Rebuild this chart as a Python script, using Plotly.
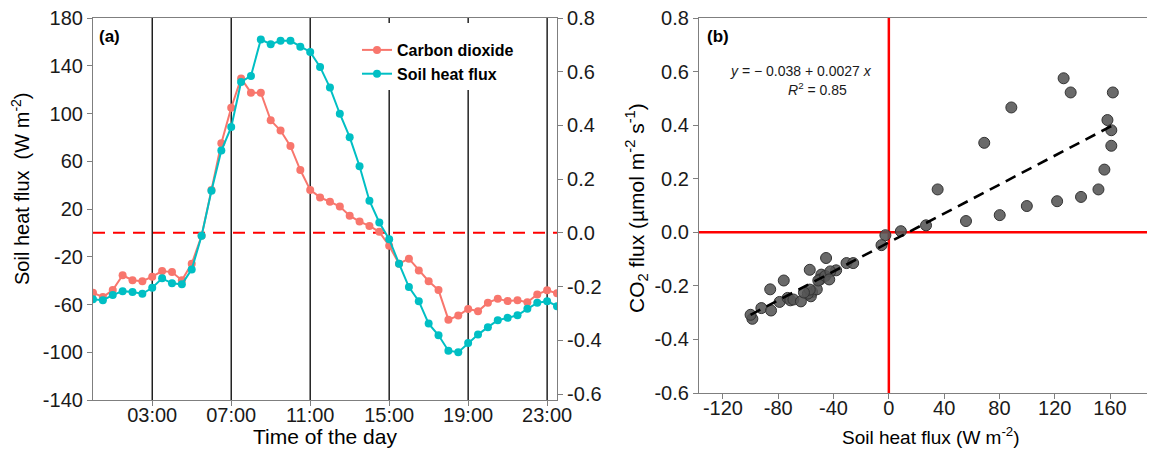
import plotly.graph_objects as go

# ---------------- data ----------------
hours = [0, 0.5, 1, 1.5, 2, 2.5, 3, 3.5, 4, 4.5,
         5, 5.5, 6, 6.5, 7, 7.5, 8, 8.5, 9, 9.5,
         10, 10.5, 11, 11.5, 12, 12.5, 13, 13.5, 14, 14.5,
         15, 15.5, 16, 16.5, 17, 17.5, 18, 18.5, 19, 19.5,
         20, 20.5, 21, 21.5, 22, 22.5, 23, 23.5]

co2_flux = [-0.223, -0.239, -0.213, -0.158, -0.176, -0.180, -0.163, -0.142, -0.146, -0.176,
            -0.115, -0.011, 0.160, 0.334, 0.466, 0.575, 0.522, 0.522, 0.419, 0.381,
            0.323, 0.234, 0.160, 0.132, 0.116, 0.098, 0.064, 0.042, 0.026, 0.004,
            -0.048, -0.115, -0.096, -0.140, -0.180, -0.213, -0.323, -0.308, -0.283, -0.292,
            -0.260, -0.245, -0.254, -0.251, -0.258, -0.229, -0.214, -0.225]

soil_heat_flux = [-55.5, -56.4, -52.1, -48.8, -49.6, -51.0, -46.0, -38.1, -42.3, -43.1,
                  -30.6, -2.5, 35.3, 69.0, 88.6, 126.4, 131.5, 162.0, 158.1, 160.9,
                  160.9, 155.9, 151.6, 139.0, 121.7, 99.8, 80.2, 55.8, 26.9, 8.7,
                  -5.3, -25.8, -45.4, -57.2, -76.0, -85.8, -98.7, -100.0, -92.2, -85.2,
                  -79.0, -73.2, -71.2, -69.0, -63.6, -58.6, -57.2, -61.4]

time_tickvals = [3, 7, 11, 15, 19, 23]
time_ticktext = ["03:00", "07:00", "11:00", "15:00", "19:00", "23:00"]
shf_ticks_a = [-140, -100, -60, -20, 20, 60, 100, 140, 180]
shf_ticktext_a = ["-140", "-100", "-60", "-20", "20", "60", "100", "140", "180"]
co2_ticks = [-0.6, -0.4, -0.2, 0.0, 0.2, 0.4, 0.6, 0.8]
co2_ticktext = ["-0.6", "-0.4", "-0.2", "0.0", "0.2", "0.4", "0.6", "0.8"]
shf_ticks_b = [-120, -80, -40, 0, 40, 80, 120, 160]
shf_ticktext_b = ["-120", "-80", "-40", "0", "40", "80", "120", "160"]

intercept = -0.038
slope = 0.0027
r_squared = 0.85

# ---------------- styles ----------------
PAGE_W, PAGE_H = 1155, 450
OFF = 8                      # default page margin around the figure div
W, H = PAGE_W - OFF, PAGE_H - OFF
FONT = "Liberation Sans, Arial, sans-serif"
RED = "#F8766D"
TEAL = "#00BFC4"
AX = "#7f7f7f"
TICKFONT = dict(family=FONT, size=20, color="#1a1a1a")

def px_x(p):
    # page pixel -> paper fraction
    return (p - OFF) / W

def px_y(p):
    return (PAGE_H - p) / H

fig = go.Figure()

fig.add_trace(go.Scatter(
    x=hours, y=co2_flux, mode="lines+markers", name="Carbon dioxide",
    line=dict(color=RED, width=2), marker=dict(size=8, color=RED),
    xaxis="x", yaxis="y"))
fig.add_trace(go.Scatter(
    x=hours, y=soil_heat_flux, mode="lines+markers", name="Soil heat flux",
    line=dict(color=TEAL, width=2), marker=dict(size=8, color=TEAL),
    xaxis="x", yaxis="y2"))

fig.add_trace(go.Scatter(
    x=soil_heat_flux, y=co2_flux, mode="markers", showlegend=False,
    marker=dict(size=11, color="rgba(85,85,85,0.88)", line=dict(color="#333333", width=1)),
    xaxis="x2", yaxis="y3"))

x_fit = [min(soil_heat_flux), max(soil_heat_flux)]
y_fit = [intercept + slope * v for v in x_fit]
fig.add_trace(go.Scatter(
    x=x_fit, y=y_fit, mode="lines", showlegend=False,
    line=dict(color="black", width=2.6, dash="11px,7px"),
    xaxis="x2", yaxis="y3"))

common_axis = dict(showgrid=False, zeroline=False, showline=True, linecolor=AX,
                   linewidth=1.2, ticks="outside", ticklen=5, tickwidth=1.2,
                   tickcolor=AX, tickfont=TICKFONT, automargin=False,
                   ticklabeloverflow="allow")

fig.update_layout(
    width=W, height=H, autosize=False,
    margin=dict(l=0, r=0, t=0, b=0, pad=0, autoexpand=False),
    paper_bgcolor="white", plot_bgcolor="white",
    font=dict(family=FONT, color="black"),
    xaxis=dict(domain=[px_x(93), px_x(557)], anchor="y", range=[0, 23.5],
               tickmode="array", tickvals=time_tickvals, ticktext=time_ticktext,
               mirror=True, ticklabelstandoff=-8, **common_axis),
    yaxis=dict(domain=[px_y(400), px_y(18)], anchor="x", side="right",
               range=[-140 / 225, 0.8], tickmode="array", tickvals=co2_ticks,
               ticktext=co2_ticktext, **common_axis),
    yaxis2=dict(overlaying="y", anchor="x", side="left", range=[-140, 180],
                tickmode="array", tickvals=shf_ticks_a, ticktext=shf_ticktext_a,
                **common_axis),
    xaxis2=dict(domain=[px_x(699), 1.0], anchor="y3", range=[-137.3, 192.5],
                tickmode="array", tickvals=shf_ticks_b, ticktext=shf_ticktext_b,
                mirror=True, ticklabelstandoff=-8, **common_axis),
    yaxis3=dict(domain=[px_y(393), px_y(18)], anchor="x2", range=[-0.6, 0.8],
                tickmode="array", tickvals=co2_ticks, ticktext=co2_ticktext,
                **common_axis),
    legend=dict(x=px_x(357), y=px_y(33), xanchor="left", yanchor="top",
                bgcolor="rgba(0,0,0,0)", borderwidth=0,
                font=dict(family=FONT, size=16, color="black", weight="bold"),
                tracegroupgap=0),
    showlegend=True,
)

shapes = []
for t in time_tickvals:
    shapes.append(dict(type="line", xref="x", yref="y domain", x0=t, x1=t, y0=0, y1=1,
                       line=dict(color="black", width=1.3), layer="below"))
# white legend background box (covers the vertical guide lines behind the legend)
shapes.append(dict(type="rect", xref="paper", yref="paper",
                   x0=px_x(362), x1=px_x(525), y0=px_y(90), y1=px_y(23),
                   fillcolor="white", line=dict(width=0), layer="below"))
shapes.append(dict(type="line", xref="x domain", yref="y", x0=0, x1=1, y0=0, y1=0,
                   line=dict(color="#FF0000", width=2, dash="12px,8px"), layer="below"))
shapes.append(dict(type="line", xref="x2", yref="y3 domain", x0=0, x1=0, y0=0, y1=1,
                   line=dict(color="#FF0000", width=2.5), layer="below"))
shapes.append(dict(type="line", xref="x2 domain", yref="y3", x0=0, x1=1, y0=0, y1=0,
                   line=dict(color="#FF0000", width=2.5), layer="below"))
fig.update_layout(shapes=shapes)

ann = []
ann.append(dict(text="<b>(a)</b>", x=px_x(97), y=px_y(36), xref="paper", yref="paper",
                xanchor="left", yanchor="middle", showarrow=False,
                font=dict(family=FONT, size=17, color="black")))
ann.append(dict(text="<b>(b)</b>", x=px_x(705), y=px_y(36), xref="paper", yref="paper",
                xanchor="left", yanchor="middle", showarrow=False,
                font=dict(family=FONT, size=17, color="black")))
sign = "−" if intercept < 0 else "+"
ann.append(dict(text=f"<i>y</i> = {sign} {abs(intercept):.3f} + {slope:.4f} <i>x</i>",
                x=px_x(801), y=px_y(71), xref="paper", yref="paper",
                xanchor="center", yanchor="middle", showarrow=False,
                font=dict(family=FONT, size=14, color="#1a1a1a")))
ann.append(dict(text=f"<i>R</i><sup>2</sup> = {r_squared:.2f}",
                x=px_x(817), y=px_y(89), xref="paper", yref="paper",
                xanchor="center", yanchor="middle", showarrow=False,
                font=dict(family=FONT, size=14, color="#1a1a1a")))
# axis titles
ann.append(dict(text="Soil heat flux  (W m<sup>-2</sup>)", x=px_x(20), y=px_y(189),
                xref="paper", yref="paper", textangle=-90, xanchor="center", yanchor="middle",
                showarrow=False, font=dict(family=FONT, size=20, color="black")))
ann.append(dict(text="Time of the day", x=px_x(325), y=px_y(436),
                xref="paper", yref="paper", xanchor="center", yanchor="middle",
                showarrow=False, font=dict(family=FONT, size=21, color="black")))
ann.append(dict(text="CO<sub>2</sub> flux (µmol m<sup>-2</sup> s<sup>-1</sup>)", x=px_x(637), y=px_y(208),
                xref="paper", yref="paper", textangle=-90, xanchor="center", yanchor="middle",
                showarrow=False, font=dict(family=FONT, size=21, color="black")))
ann.append(dict(text="Soil heat flux (W m<sup>-2</sup>)", x=px_x(931), y=px_y(436),
                xref="paper", yref="paper", xanchor="center", yanchor="middle",
                showarrow=False, font=dict(family=FONT, size=19, color="black")))
fig.update_layout(annotations=ann)

fig.write_html("out.html")
